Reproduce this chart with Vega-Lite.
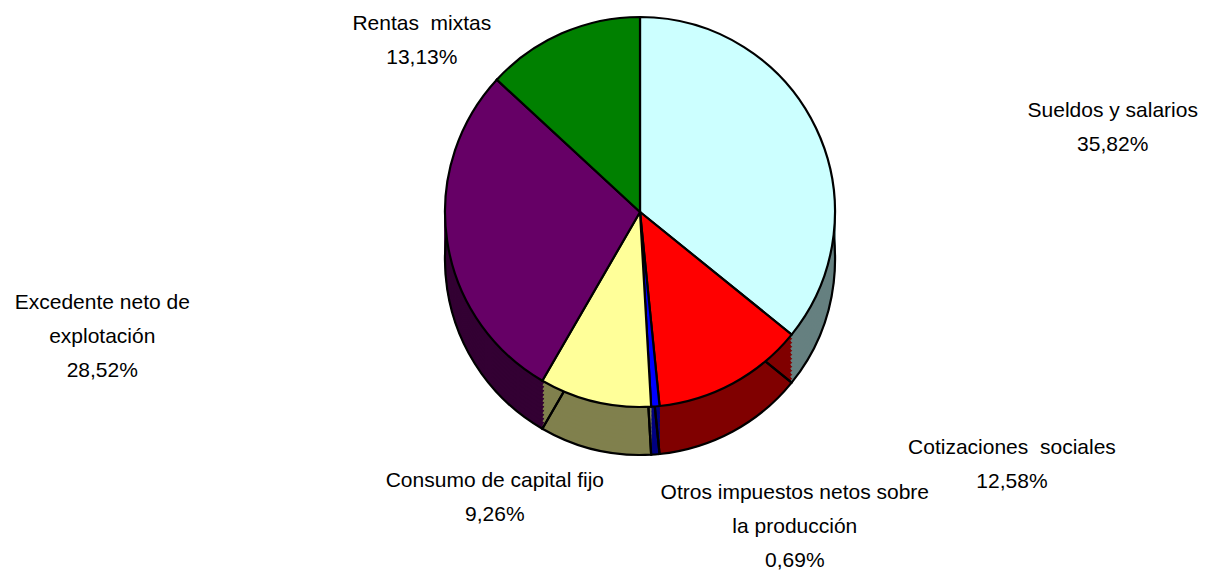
{
  "$schema": "https://vega.github.io/schema/vega-lite/v6.json",
  "width": 1142,
  "height": 424,
  "autosize": "none",
  "padding": {"left": 69, "top": 0, "right": 0, "bottom": 149},
  "background": "white",
  "view": {"stroke": null},
  "config": {"text": {"font": "Liberation Sans, Arial", "fontSize": 21, "lineHeight": 34, "color": "#000000"}},
  "data": {
    "values": [
      {"categoria": "Sueldos y salarios", "valor": 35.82, "etiqueta": "Sueldos y salarios\n35,82%", "orden": 1},
      {"categoria": "Cotizaciones sociales", "valor": 12.58, "etiqueta": "Cotizaciones\u00a0 sociales\n12,58%", "orden": 2},
      {"categoria": "Otros impuestos netos sobre la producción", "valor": 0.69, "etiqueta": "Otros impuestos netos sobre\nla producción\n0,69%", "orden": 3},
      {"categoria": "Consumo de capital fijo", "valor": 9.26, "etiqueta": "Consumo de capital fijo\n9,26%", "orden": 4},
      {"categoria": "Excedente neto de explotación", "valor": 28.52, "etiqueta": "Excedente neto de\nexplotación\n28,52%", "orden": 5},
      {"categoria": "Rentas mixtas", "valor": 13.13, "etiqueta": "Rentas\u00a0 mixtas\n13,13%", "orden": 6}
    ]
  },
  "encoding": {
    "theta": {"field": "valor", "type": "quantitative", "stack": true},
    "order": {"field": "orden", "type": "quantitative", "sort": "ascending"}
  },
  "layer": [
    {
      "mark": {"type": "arc", "radius": 195, "yOffset": 48, "strokeWidth": 1},
      "encoding": {
        "fill": {"field": "categoria", "type": "nominal", "legend": null, "scale": {"domain": ["Sueldos y salarios", "Cotizaciones sociales", "Otros impuestos netos sobre la producción", "Consumo de capital fijo", "Excedente neto de explotación", "Rentas mixtas"], "range": ["#668080", "#800000", "#000080", "#80804D", "#330033", "#004000"]}},
        "stroke": {"field": "categoria", "type": "nominal", "legend": null, "scale": {"domain": ["Sueldos y salarios", "Cotizaciones sociales", "Otros impuestos netos sobre la producción", "Consumo de capital fijo", "Excedente neto de explotación", "Rentas mixtas"], "range": ["#668080", "#800000", "#000080", "#80804D", "#330033", "#004000"]}}
      }
    },
    {"mark": {"type": "arc", "radius": 195, "yOffset": 44, "strokeWidth": 1}, "encoding": {"fill": {"field": "categoria", "type": "nominal", "legend": null}, "stroke": {"field": "categoria", "type": "nominal", "legend": null}}},
    {"mark": {"type": "arc", "radius": 195, "yOffset": 40, "strokeWidth": 1}, "encoding": {"fill": {"field": "categoria", "type": "nominal", "legend": null}, "stroke": {"field": "categoria", "type": "nominal", "legend": null}}},
    {"mark": {"type": "arc", "radius": 195, "yOffset": 36, "strokeWidth": 1}, "encoding": {"fill": {"field": "categoria", "type": "nominal", "legend": null}, "stroke": {"field": "categoria", "type": "nominal", "legend": null}}},
    {"mark": {"type": "arc", "radius": 195, "yOffset": 32, "strokeWidth": 1}, "encoding": {"fill": {"field": "categoria", "type": "nominal", "legend": null}, "stroke": {"field": "categoria", "type": "nominal", "legend": null}}},
    {"mark": {"type": "arc", "radius": 195, "yOffset": 28, "strokeWidth": 1}, "encoding": {"fill": {"field": "categoria", "type": "nominal", "legend": null}, "stroke": {"field": "categoria", "type": "nominal", "legend": null}}},
    {"mark": {"type": "arc", "radius": 195, "yOffset": 24, "strokeWidth": 1}, "encoding": {"fill": {"field": "categoria", "type": "nominal", "legend": null}, "stroke": {"field": "categoria", "type": "nominal", "legend": null}}},
    {"mark": {"type": "arc", "radius": 195, "yOffset": 20, "strokeWidth": 1}, "encoding": {"fill": {"field": "categoria", "type": "nominal", "legend": null}, "stroke": {"field": "categoria", "type": "nominal", "legend": null}}},
    {"mark": {"type": "arc", "radius": 195, "yOffset": 16, "strokeWidth": 1}, "encoding": {"fill": {"field": "categoria", "type": "nominal", "legend": null}, "stroke": {"field": "categoria", "type": "nominal", "legend": null}}},
    {"mark": {"type": "arc", "radius": 195, "yOffset": 12, "strokeWidth": 1}, "encoding": {"fill": {"field": "categoria", "type": "nominal", "legend": null}, "stroke": {"field": "categoria", "type": "nominal", "legend": null}}},
    {"mark": {"type": "arc", "radius": 195, "yOffset": 8, "strokeWidth": 1}, "encoding": {"fill": {"field": "categoria", "type": "nominal", "legend": null}, "stroke": {"field": "categoria", "type": "nominal", "legend": null}}},
    {"mark": {"type": "arc", "radius": 195, "yOffset": 4, "strokeWidth": 1}, "encoding": {"fill": {"field": "categoria", "type": "nominal", "legend": null}, "stroke": {"field": "categoria", "type": "nominal", "legend": null}}},
    {
      "mark": {"type": "arc", "radius": 195, "yOffset": 48, "fillOpacity": 0, "stroke": "#000000", "strokeWidth": 2.2},
      "encoding": {}
    },
    {
      "mark": {"type": "arc", "radius": 195, "stroke": "#000000", "strokeWidth": 2.2},
      "encoding": {
        "color": {"field": "categoria", "type": "nominal", "legend": null, "scale": {"domain": ["Sueldos y salarios", "Cotizaciones sociales", "Otros impuestos netos sobre la producción", "Consumo de capital fijo", "Excedente neto de explotación", "Rentas mixtas"], "range": ["#CCFFFF", "#FF0000", "#0000FF", "#FFFF99", "#660066", "#008000"]}}
      }
    },
    {
      "mark": {"type": "text", "radius": 300, "dx": 202, "dy": 28, "lineBreak": "\n", "align": "center", "baseline": "middle"},
      "encoding": {"text": {"condition": {"test": "datum.orden === 1", "field": "etiqueta", "type": "nominal"}, "value": ""}}
    },
    {
      "mark": {"type": "text", "radius": 290, "dx": 234, "dy": -19, "lineBreak": "\n", "align": "center", "baseline": "middle"},
      "encoding": {"text": {"condition": {"test": "datum.orden === 2", "field": "etiqueta", "type": "nominal"}, "value": ""}}
    },
    {
      "mark": {"type": "text", "radius": 315, "dx": 130, "dy": -33, "lineBreak": "\n", "align": "center", "baseline": "middle"},
      "encoding": {"text": {"condition": {"test": "datum.orden === 3", "field": "etiqueta", "type": "nominal"}, "value": ""}}
    },
    {
      "mark": {"type": "text", "radius": 290, "dx": -78, "dy": -13, "lineBreak": "\n", "align": "center", "baseline": "middle"},
      "encoding": {"text": {"condition": {"test": "datum.orden === 4", "field": "etiqueta", "type": "nominal"}, "value": ""}}
    },
    {
      "mark": {"type": "text", "radius": 290, "dx": -251, "dy": 48, "lineBreak": "\n", "align": "center", "baseline": "middle"},
      "encoding": {"text": {"condition": {"test": "datum.orden === 5", "field": "etiqueta", "type": "nominal"}, "value": ""}}
    },
    {
      "mark": {"type": "text", "radius": 190, "dx": -142, "dy": -14, "lineBreak": "\n", "align": "center", "baseline": "middle"},
      "encoding": {"text": {"condition": {"test": "datum.orden === 6", "field": "etiqueta", "type": "nominal"}, "value": ""}}
    }
  ]
}
